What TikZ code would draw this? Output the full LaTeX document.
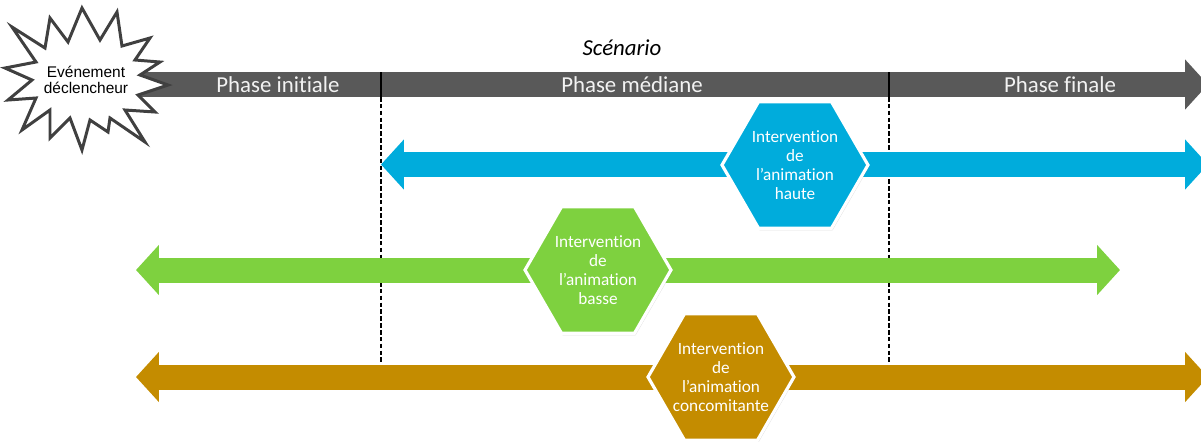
\documentclass[tikz,border=0pt]{standalone}
\usepackage{fontspec}
\setmainfont{Carlito}[Ligatures=NoCommon]
\newfontfamily\arialfont{Liberation Sans}
\usepackage{tikz}
\usetikzlibrary{shapes.geometric,arrows.meta,shadows}
\definecolor{ScGray}{HTML}{595959}
\definecolor{ScDark}{HTML}{404040}
\definecolor{ScText}{HTML}{F2F2F2}
\definecolor{ScBlue}{HTML}{00ACDC}
\definecolor{ScGreen}{HTML}{7ED13F}
\definecolor{ScBrown}{HTML}{C48C00}
\tikzset{
    % Timeline band with arrow heads
    bandarrow/.style={
        line width=0.5cm,
        arrows={-{Triangle[width=0.98cm,length=0.46cm]}}
    },
    bothband/.style={
        bandarrow,
        arrows={{Triangle[width=0.98cm,length=0.46cm]}-{Triangle[width=0.98cm,length=0.46cm]}}
    },
    % Phase labels on the grey band
    phaselabel/.style={
        text=ScText,
        font=\fontsize{13}{15}\selectfont,
        inner sep=0pt
    },
    % Phase separators
    sepsolid/.style={
        draw=black,
        line width=0.8pt
    },
    sepdashed/.style={
        draw=black,
        line width=0.8pt,
        dash pattern=on 2.6pt off 1.3pt
    },
    % Intervention hexagon
    hexnode/.style={
        regular polygon,
        regular polygon sides=6,
        minimum size=2.92cm,
        inner sep=-3pt,
        draw=white,
        line width=1.8pt,
        text=white,
        align=center,
        font=\fontsize{9.8}{10.9}\selectfont,
        drop shadow={shadow xshift=0.6pt,shadow yshift=-1.2pt,opacity=0.25}
    },
    % Trigger event
    starnode/.style={
        align=center,
        inner sep=0pt,
        font=\arialfont\fontsize{8.8}{9.4}\selectfont
    }
}

\begin{document}
\begin{tikzpicture}[x=0.02cm, y=-0.02cm]
        \clip (0,0) rectangle (1201,441);

        % Band end points
        \coordinate (gL) at (130,84.5);
        \coordinate (gR) at (1208,84.5);
        \coordinate (bL) at (381,164.5);
        \coordinate (bR) at (1208,164.5);
        \coordinate (vL) at (136,270);
        \coordinate (vR) at (1120,270);
        \coordinate (oL) at (136,377);
        \coordinate (oR) at (1208,377);

        % Scenario band
        \draw[bandarrow, ScGray] (gL) -- (gR);
        \node[font=\itshape\fontsize{13}{15}\selectfont] (scen) at (622,48) {Scénario};
        \node[phaselabel] (ph1) at (278,84.5) {Phase initiale};
        \node[phaselabel] (ph2) at (632,84.5) {Phase médiane};
        \node[phaselabel] (ph3) at (1060,84.5) {Phase finale};

        % Phase separators
        \coordinate (s1a) at (381,72);
        \coordinate (s1b) at (381,97);
        \coordinate (s1c) at (381,364);
        \coordinate (s2a) at (889,72);
        \coordinate (s2b) at (889,97);
        \coordinate (s2c) at (889,364);
        \draw[sepsolid] (s1a) -- (s1b);
        \draw[sepsolid] (s2a) -- (s2b);
        \draw[sepdashed] (s1b) -- (s1c);
        \draw[sepdashed] (s2b) -- (s2c);

        % Intervention bands
        \draw[bothband, ScBlue] (bL) -- (bR);
        \draw[bothband, ScGreen] (vL) -- (vR);
        \draw[bothband, ScBrown] (oL) -- (oR);

        % Hexagons
        \node[hexnode, fill=ScBlue] (haute) at (795,165) {Intervention\\de\\l’animation\\haute};
        \node[hexnode, fill=ScGreen] (basse) at (598,270) {Intervention\\de\\l’animation\\basse};
        \node[hexnode, fill=ScBrown] (conc) at (721,377) {Intervention\\de\\l’animation\\concomitante};

        % Trigger event
        \filldraw[fill=white, draw=ScDark, line width=1.7pt, line join=miter]
            (12,27) -- (45,48) -- (50,18) -- (68,42) -- (82,8) -- (100,40)
            -- (117,12) -- (122,46) -- (150,38) -- (135,60) -- (160,62)
            -- (140,75) -- (168,85) -- (138,95) -- (155,112) -- (125,110)
            -- (145,142) -- (110,118) -- (108,132) -- (90,120) -- (82,150)
            -- (70,118) -- (50,138) -- (50,110) -- (22,130) -- (36,98)
            -- (8,100) -- (32,80) -- (5,68) -- (36,62) -- cycle;
        \node[starnode] (trig) at (86,80) {Evénement\\déclencheur};
    \end{tikzpicture}
\end{document}
